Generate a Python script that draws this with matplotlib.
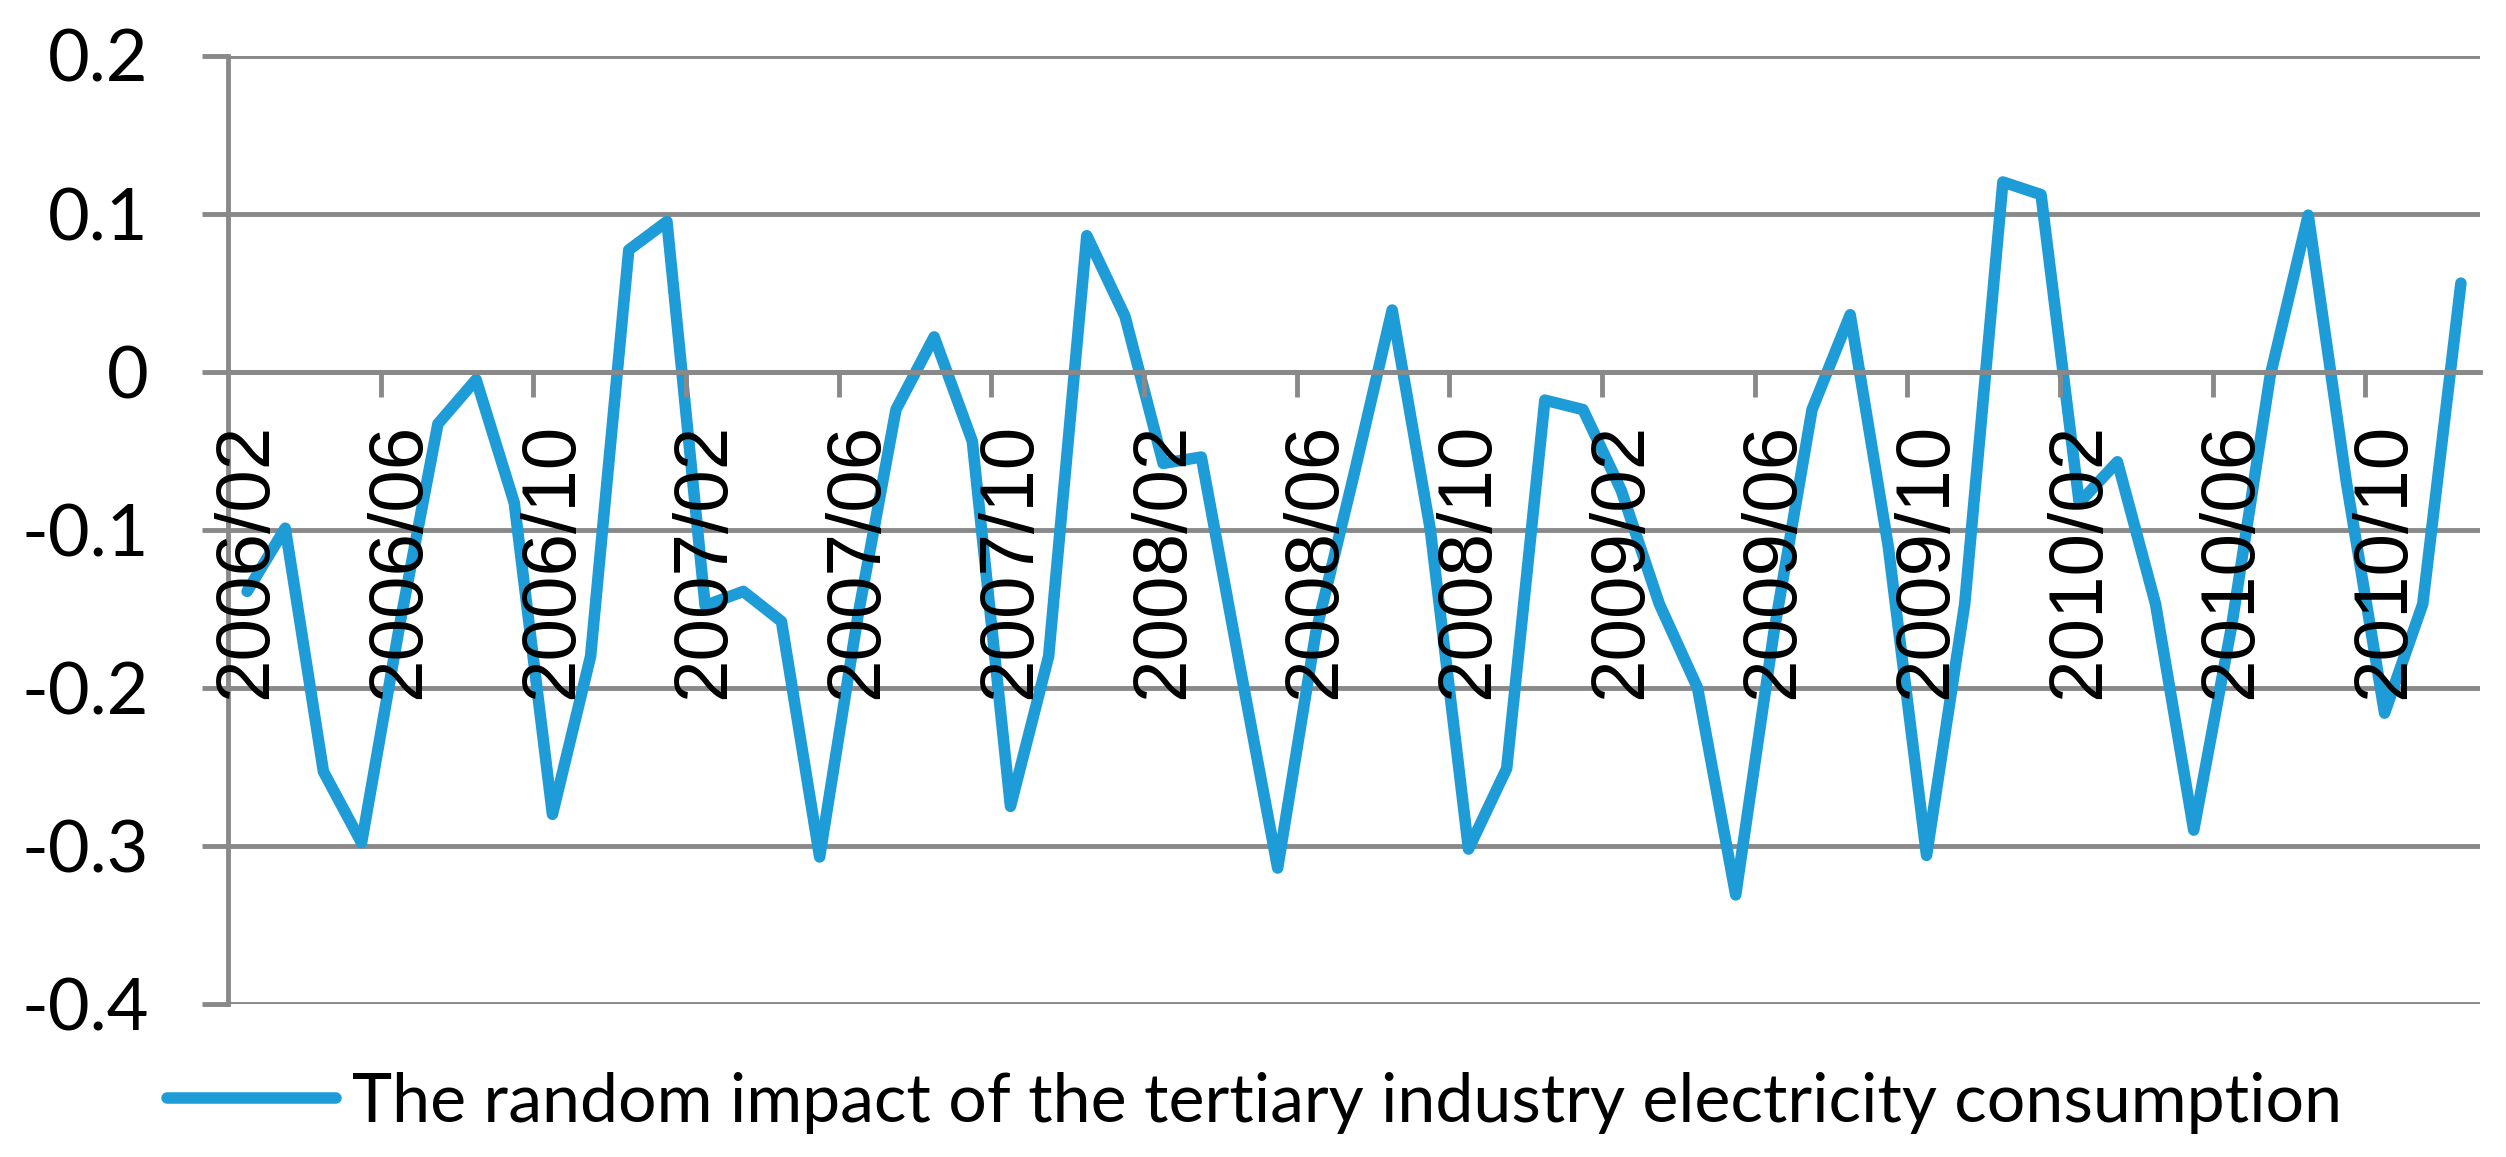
import numpy as np
import pandas as pd
import matplotlib
matplotlib.use("Agg")
import matplotlib.pyplot as plt

# monthly categories, 2006/02 .. 2010/12
months = list(pd.period_range("2006-02", "2010-12", freq="M").strftime("%Y/%m"))

random_impact = [
    -0.139, -0.099, -0.253, -0.298, -0.160, -0.033, -0.005, -0.083, -0.280, -0.180,
    0.077, 0.095, -0.148, -0.139, -0.158, -0.307, -0.155, -0.024, 0.022, -0.044,
    -0.275, -0.180, 0.086, 0.035, -0.058, -0.054, -0.185, -0.314, -0.165, -0.065,
    0.039, -0.100, -0.302, -0.251, -0.018, -0.024, -0.075, -0.147, -0.200, -0.331,
    -0.165, -0.024, 0.036, -0.111, -0.306, -0.147, 0.120, 0.112, -0.083, -0.057,
    -0.147, -0.290, -0.160, -0.003, 0.099, -0.070, -0.216, -0.147, 0.056,
]

series_label = "The random impact of the tertiary industry electricity consumption"
y_ticks = [0.2, 0.1, 0, -0.1, -0.2, -0.3, -0.4]
y_tick_labels = ["0.2", "0.1", "0", "-0.1", "-0.2", "-0.3", "-0.4"]

line_color = "#1E9CD7"
grid_color = "#898989"
humanist = ["Lato", "DejaVu Sans"]
regular = ["Liberation Sans", "DejaVu Sans"]

fig = plt.figure(figsize=(25.06, 11.57), dpi=100)
ax = fig.add_axes([228 / 2506, 1 - 1004 / 1157, (2480 - 228) / 2506, (1004 - 55.5) / 1157])

x = np.arange(len(months))
ax.plot(x, random_impact, color=line_color, linewidth=8.3, solid_joinstyle="round",
        solid_capstyle="round", label=series_label, zorder=2)

ax.set_xlim(-0.5, len(months) - 0.5)
ax.set_ylim(-0.4, 0.2)

# y axis
ax.set_yticks(y_ticks)
ax.set_yticklabels(y_tick_labels, family=humanist, fontsize=52)
ax.tick_params(axis="y", direction="out", length=19, width=3.5, color=grid_color, pad=38)
ax.yaxis.grid(True, color=grid_color, linewidth=3.5)
ax.yaxis.set_zorder(1)

# x axis crosses at zero; ticks between categories, labels every 4 months
ax.spines["bottom"].set_position(("data", 0))
ax.spines["bottom"].set_color(grid_color)
ax.spines["bottom"].set_linewidth(3.5)
ax.spines["left"].set_color(grid_color)
ax.spines["left"].set_linewidth(3.5)
ax.spines["top"].set_visible(False)
ax.spines["right"].set_visible(False)

ax.set_xticks(np.arange(3.5, len(months) - 1, 4))
ax.set_xticklabels([])
ax.tick_params(axis="x", which="major", direction="out", length=18, width=3.5, color=grid_color)
ax.set_xticks(x[::4], minor=True)
ax.set_xticklabels(months[::4], minor=True, rotation=90, family=regular, fontsize=55)
ax.tick_params(axis="x", which="minor", length=0, pad=37)
ax.xaxis.set_zorder(3)

leg = fig.legend(loc="center left", bbox_to_anchor=(167 / 2506, 1 - 1103 / 1157),
                 frameon=False, prop={"family": humanist, "size": 49},
                 handlelength=2.48, handletextpad=0.24, borderpad=0, borderaxespad=0)

fig.savefig("out.png", dpi=100)
